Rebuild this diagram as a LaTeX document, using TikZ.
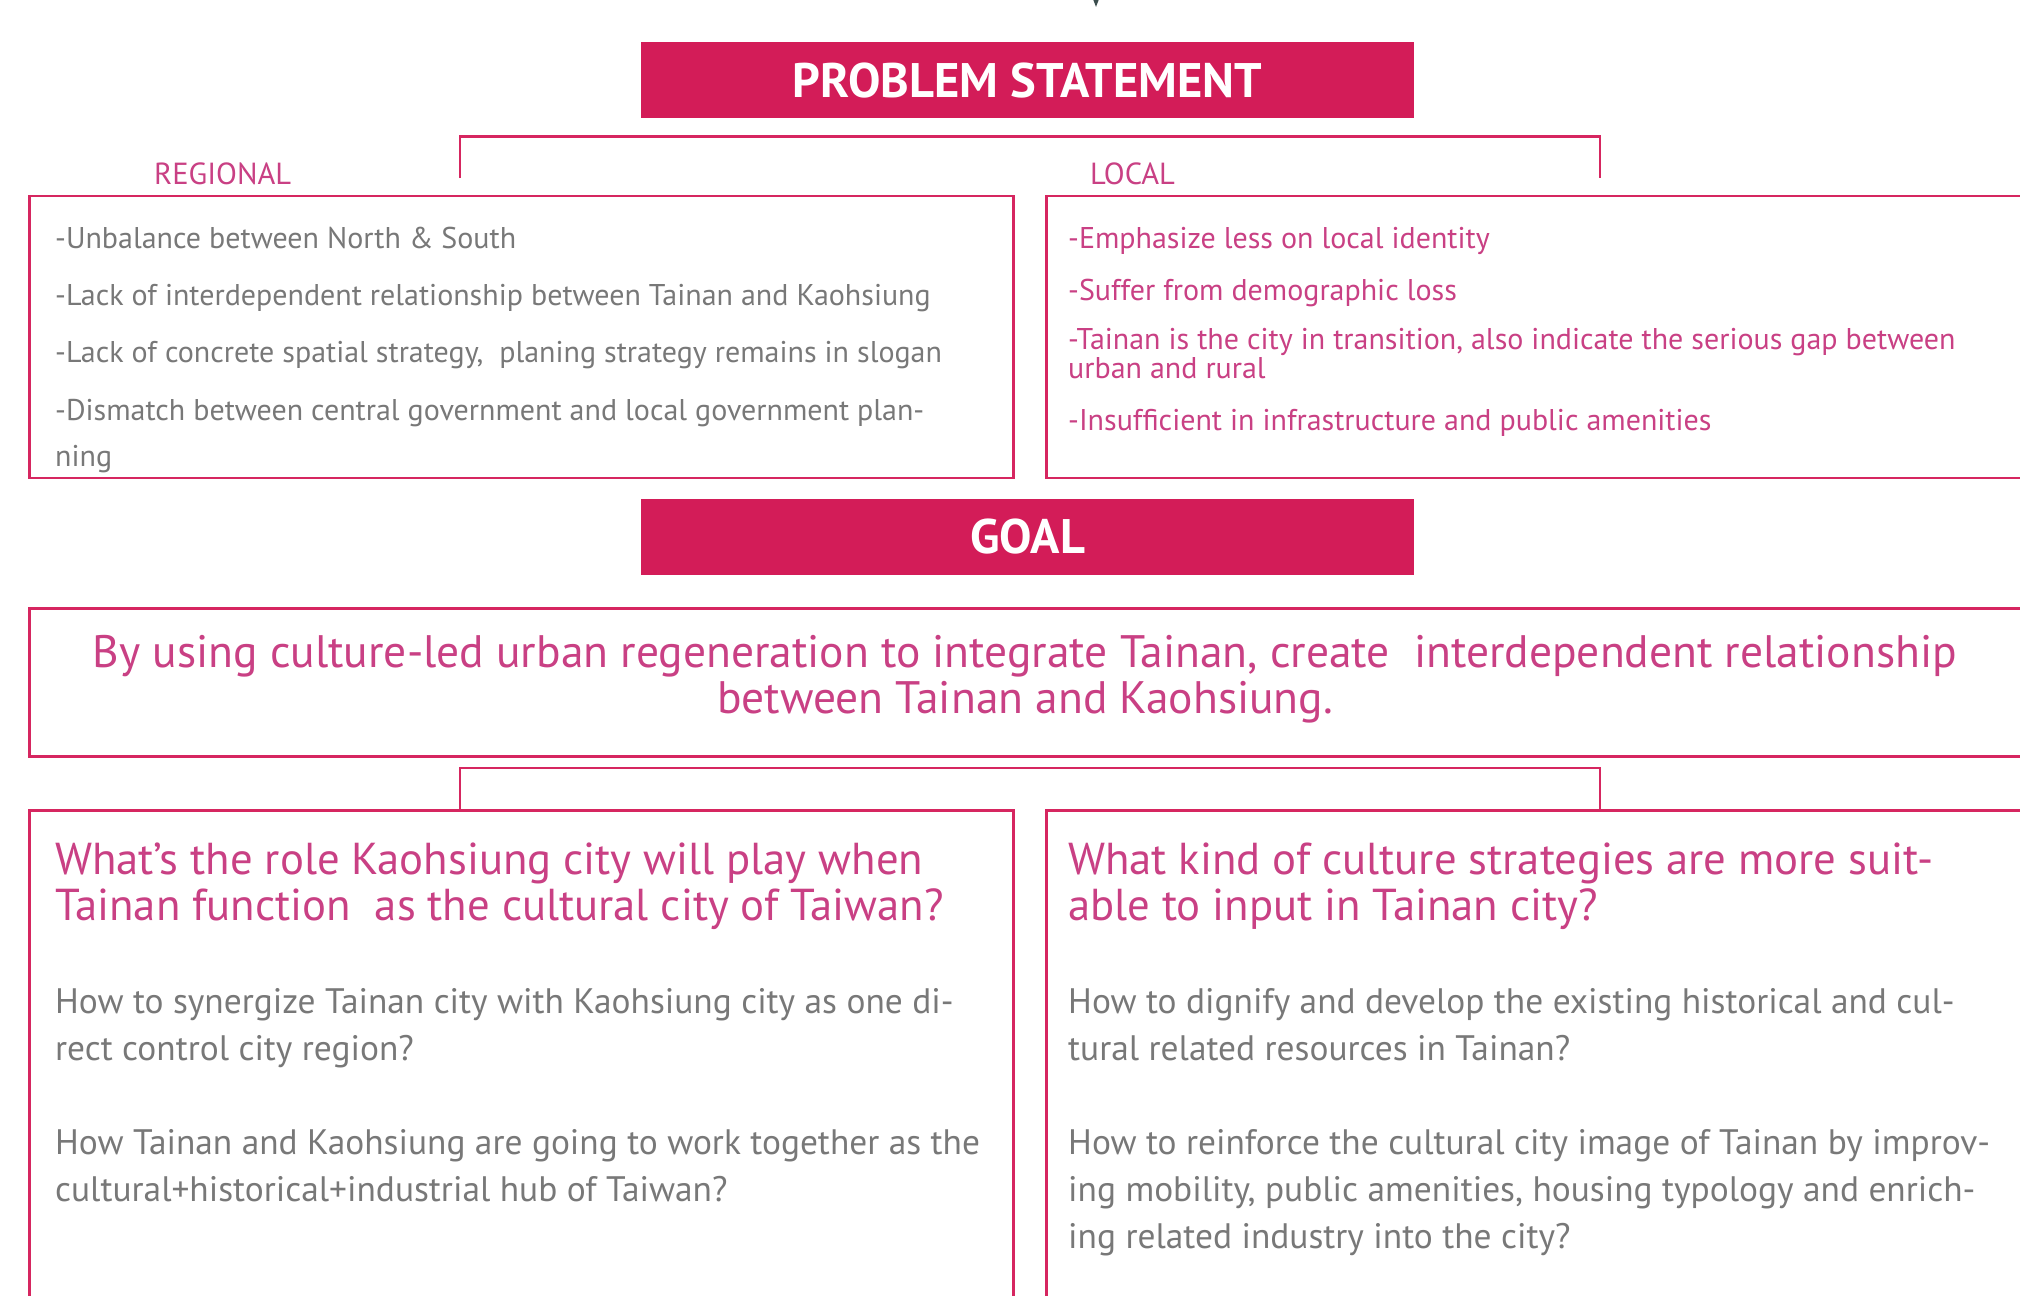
\documentclass[tikz,border=0pt]{standalone}
\usepackage{fontspec}
\setmainfont{PT Sans}
\usetikzlibrary{arrows.meta}
\definecolor{pkfill}{RGB}{211,28,88}
\definecolor{pkline}{RGB}{214,38,96}
\definecolor{pktext}{RGB}{201,64,132}
\definecolor{gtext}{RGB}{120,120,120}
\definecolor{arrowc}{RGB}{60,78,78}
\tikzset{
  hdr/.style={fill=pkfill, draw=none, text=white, font=\bfseries\fontsize{48.5}{52}\selectfont, minimum width=773pt, minimum height=76pt, inner sep=0pt},
  frame/.style={draw=pkline, line width=2.6pt, fill=none, anchor=north west, inner sep=0pt},
  conn/.style={draw=pkline, line width=2.4pt},
  lbl/.style={text=pktext, font=\fontsize{30.5}{34}\selectfont, anchor=base west, inner sep=0pt},
  gitem/.style={text=gtext, font=\fontsize{30}{46}\selectfont, anchor=base west, inner sep=0pt, align=left},
  pitem/.style={text=pktext, font=\fontsize{30}{27}\selectfont, anchor=base west, inner sep=0pt, align=left},
  goaltxt/.style={text=pktext, font=\fontsize{45.5}{46}\selectfont, anchor=base, inner sep=0pt, align=center},
  qhead/.style={text=pktext, font=\fontsize{44.7}{46}\selectfont, anchor=base west, inner sep=0pt, align=left},
  qpara/.style={text=gtext, font=\fontsize{35.4}{46.7}\selectfont, anchor=base west, inner sep=0pt, align=left}
}
\begin{document}
\begin{tikzpicture}[x=1pt,y=-1pt]
\useasboundingbox (0,0) rectangle (2020,1295);
\clip (0,0) rectangle (2020,1295);
\fill[white] (0,0) rectangle (2020,1295);

% incoming arrow from above
\coordinate (asrc) at (1096,-40);
\coordinate (atip) at (1096,7);
\draw[arrowc, line width=1.5pt, -{Triangle[width=8pt,length=11pt]}] (asrc) -- (atip);

% PROBLEM STATEMENT
\node[hdr] (ps) at (1027.5,80.5) {PROBLEM STATEMENT};

% bracket 1
\coordinate (b1l) at (460,136.5);
\coordinate (b1r) at (1600,136.5);
\coordinate (b1ld) at (460,178);
\coordinate (b1rd) at (1600,178);
\draw[conn] (b1ld) -- (b1l) -- (b1r) -- (b1rd);

\node[lbl] (lreg) at (154,184) {REGIONAL};
\node[lbl] (lloc) at (1090,184) {LOCAL};

% problem boxes
\node[frame, minimum width=984pt, minimum height=282pt] (reg) at (28,194.5) {};
\node[frame, minimum width=1050pt, minimum height=282pt] (loc) at (1045,194.5) {};

\node[gitem] (r1) at (55,248) {-Unbalance between North \& South};
\node[gitem] (r2) at (55,305) {-Lack of interdependent relationship between Tainan and Kaohsiung};
\node[gitem] (r3) at (55,362) {-Lack of concrete spatial strategy,\ \ planing strategy remains in slogan};
\node[gitem] (r4) at (55,466) {-Dismatch between central government and local government plan-\\ning};

\node[pitem] (p1) at (1068,248) {-Emphasize less on local identity};
\node[pitem] (p2) at (1068,300) {-Suffer from demographic loss};
\node[pitem] (p3) at (1068,378) {-Tainan is the city in transition, also indicate the serious gap between\\urban and rural};
\node[pitem] (p4) at (1068,430) {-Insufficient in infrastructure and public amenities};

% GOAL
\node[hdr] (goal) at (1027.5,536.5) {GOAL};
\node[frame, minimum width=2100pt, minimum height=148pt] (gbox) at (28,607) {};
\node[goaltxt] (gtext) at (1025,713) {By using culture-led urban regeneration to integrate Tainan, create\ \ interdependent relationship\\between Tainan and Kaohsiung.};

% bracket 2
\coordinate (b2l) at (460,768);
\coordinate (b2r) at (1600,768);
\coordinate (b2ld) at (460,809);
\coordinate (b2rd) at (1600,809);
\draw[conn] (b2ld) -- (b2l) -- (b2r) -- (b2rd);

% question boxes
\node[frame, minimum width=984pt, minimum height=520pt] (qleft) at (28,809) {};
\node[frame, minimum width=1050pt, minimum height=520pt] (qright) at (1045,809) {};

\node[qhead] (qh1) at (55,920) {What’s the role Kaohsiung city will play when\\Tainan function\ \ as the cultural city of Taiwan?};
\node[qpara] (qa1) at (55,1060) {How to synergize Tainan city with Kaohsiung city as one di-\\rect control city region?};
\node[qpara] (qa2) at (55,1201) {How Tainan and Kaohsiung are going to work together as the\\cultural+historical+industrial hub of Taiwan?};

\node[qhead] (qh2) at (1068,920) {What kind of culture strategies are more suit-\\able to input in Tainan city?};
\node[qpara] (qb1) at (1068,1060) {How to dignify and develop the existing historical and cul-\\tural related resources in Tainan?};
\node[qpara] (qb2) at (1068,1248) {How to reinforce the cultural city image of Tainan by improv-\\ing mobility, public amenities, housing typology and enrich-\\ing related industry into the city?};
\end{tikzpicture}
\end{document}
